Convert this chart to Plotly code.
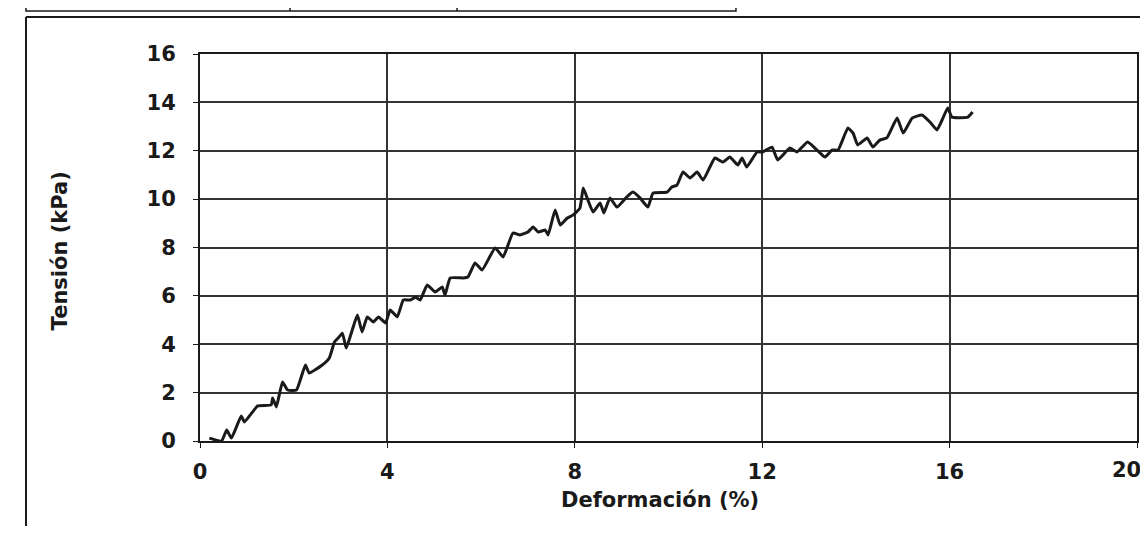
import plotly.graph_objects as go

deformacion = [0.20, 0.46, 0.57, 0.67, 0.88, 0.95, 1.23, 1.52, 1.55, 1.63, 1.76, 1.87, 2.06, 2.25, 2.33,
               2.61, 2.76, 2.87, 2.95, 3.04, 3.12, 3.25, 3.36, 3.46, 3.57, 3.70, 3.81, 3.96, 4.06, 4.21,
               4.34, 4.49, 4.60, 4.70, 4.85, 5.02, 5.17, 5.23, 5.34, 5.62, 5.72, 5.87, 6.02, 6.30, 6.47,
               6.68, 6.83, 7.00, 7.11, 7.22, 7.37, 7.43, 7.58, 7.69, 7.84, 7.96, 8.11, 8.18, 8.28, 8.39,
               8.54, 8.62, 8.75, 8.90, 9.11, 9.24, 9.39, 9.56, 9.67, 9.97, 10.07, 10.18, 10.31, 10.46,
               10.61, 10.74, 10.99, 11.16, 11.31, 11.48, 11.57, 11.67, 11.89, 12.01, 12.21, 12.33, 12.59,
               12.74, 12.97, 13.17, 13.34, 13.49, 13.62, 13.83, 13.94, 14.04, 14.24, 14.36, 14.51, 14.66,
               14.88, 15.01, 15.20, 15.41, 15.58, 15.73, 15.84, 15.96, 16.05, 16.39, 16.49]
tension = [0.12, 0.00, 0.45, 0.12, 1.03, 0.79, 1.45, 1.49, 1.78, 1.41, 2.44, 2.11, 2.11, 3.14, 2.81,
           3.14, 3.43, 4.09, 4.26, 4.46, 3.84, 4.59, 5.21, 4.51, 5.13, 4.92, 5.13, 4.88, 5.42, 5.13,
           5.83, 5.83, 5.95, 5.83, 6.45, 6.16, 6.37, 6.04, 6.74, 6.74, 6.78, 7.36, 7.07, 7.98, 7.61,
           8.60, 8.52, 8.64, 8.85, 8.64, 8.72, 8.52, 9.55, 8.93, 9.22, 9.34, 9.63, 10.46, 9.96, 9.47,
           9.84, 9.43, 10.05, 9.67, 10.09, 10.29, 10.05, 9.67, 10.25, 10.29, 10.50, 10.58, 11.12, 10.87,
           11.12, 10.79, 11.70, 11.53, 11.74, 11.41, 11.70, 11.33, 11.95, 11.95, 12.15, 11.62, 12.11,
           11.95, 12.36, 12.03, 11.74, 12.03, 12.03, 12.94, 12.73, 12.24, 12.53, 12.15, 12.44, 12.53,
           13.35, 12.73, 13.35, 13.48, 13.19, 12.86, 13.27, 13.77, 13.39, 13.39, 13.60]

x_ticks = [0, 4, 8, 12, 16, 20]
y_ticks = [0, 2, 4, 6, 8, 10, 12, 14, 16]

FONT = dict(family="DejaVu Sans", size=21, color="#1a1a1a", weight="bold")

fig = go.Figure()
fig.add_trace(go.Scatter(
    x=deformacion, y=tension, mode="lines",
    line=dict(color="#1a1a1a", width=3, shape="spline", smoothing=0.4),
    showlegend=False, hoverinfo="skip",
))

axis_common = dict(
    showline=True, mirror=True, linecolor="#1a1a1a", linewidth=2,
    showgrid=True, gridcolor="#333333", gridwidth=2,
    ticks="outside", ticklen=5, tickcolor="#1a1a1a", tickwidth=1,
    tickfont=FONT, zeroline=False, automargin=False, ticklabeloverflow="allow",
)

# the last x label sits at the page edge: draw it as an annotation pulled inside
x_ticktext = [str(v) for v in x_ticks[:-1]] + [""]
fig.update_xaxes(range=[0, 20], tickvals=x_ticks, ticktext=x_ticktext, ticklabelstandoff=6, **axis_common)
fig.update_yaxes(range=[0, 16], tickvals=y_ticks, ticktext=[str(v) for v in y_ticks], ticklabelstandoff=13,
                 **axis_common)

shape_line = dict(color="#1a1a1a", width=2)
thin = dict(color="#1a1a1a", width=1.5)
shapes = [
    # outer frame (left and top)
    dict(type="line", xref="paper", yref="paper", x0=-0.1857, x1=-0.1857, y0=1.0956, y1=-0.26, line=shape_line),
    dict(type="line", xref="paper", yref="paper", x0=-0.1857, x1=1.03, y0=1.0956, y1=1.0956, line=shape_line),
    # partial table above
    dict(type="rect", xref="paper", yref="paper", x0=-0.1857, x1=0.572, y0=1.111, y1=1.16, line=thin),
    dict(type="line", xref="paper", yref="paper", x0=0.0961, x1=0.0961, y0=1.111, y1=1.16, line=thin),
    dict(type="line", xref="paper", yref="paper", x0=0.2743, x1=0.2743, y0=1.111, y1=1.16, line=thin),
]

annotations = [
    dict(text="Tensión (kPa)", xref="paper", yref="paper", x=-0.1494, y=0.49, textangle=-90,
         showarrow=False, font=FONT, xanchor="center", yanchor="middle"),
    dict(text="Deformación (%)", xref="paper", yref="paper", x=0.491, y=-0.152,
         showarrow=False, font=FONT, xanchor="center", yanchor="middle"),
    dict(text=str(x_ticks[-1]), xref="x", yref="paper", x=x_ticks[-1], y=0, xanchor="right", yanchor="middle",
         xshift=6, yshift=-29, showarrow=False, font=FONT),
]

fig.update_layout(
    width=1140, height=518,
    margin=dict(l=192, r=11, t=46, b=85, autoexpand=False),
    paper_bgcolor="white", plot_bgcolor="white",
    shapes=shapes, annotations=annotations,
)

fig.write_html("out.html")
